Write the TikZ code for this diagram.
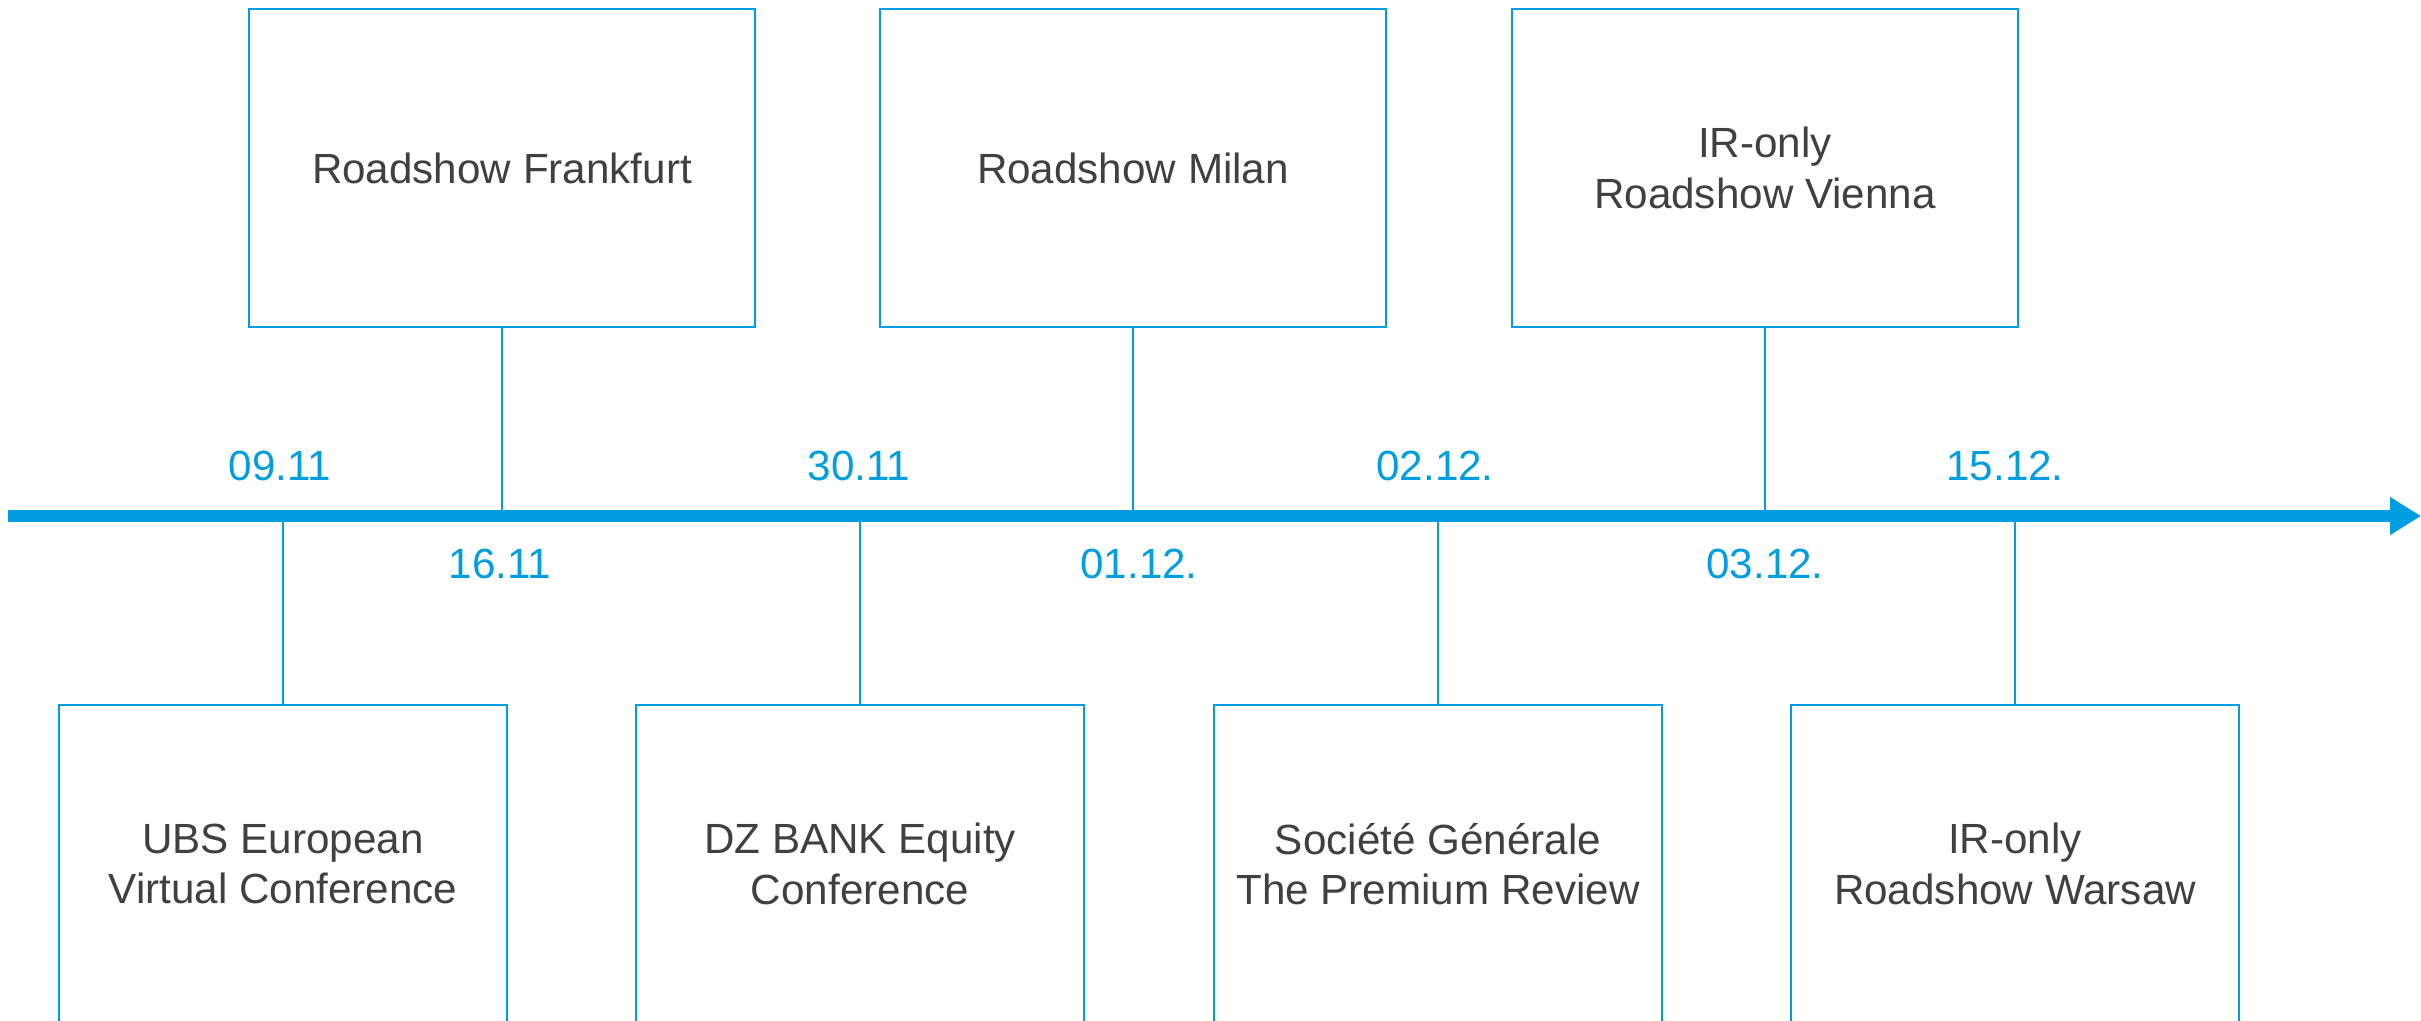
\documentclass[tikz,border=0pt]{standalone}
\usepackage{fontspec}
\setmainfont{Liberation Sans}
\usetikzlibrary{arrows.meta, positioning}
\definecolor{tlblue}{RGB}{0,158,224}
\definecolor{tlgray}{RGB}{64,64,64}
\begin{document}
\begin{tikzpicture}[x=0.01cm, y=-0.01cm,
    event/.style={draw=tlblue, line width=0.6pt, text=tlgray, align=center,
        font=\fontsize{12pt}{14.4pt}\selectfont, inner sep=0pt,
        minimum width=5.06cm, minimum height=3.17cm},
    lowevent/.style={event, minimum width=4.48cm},
    date/.style={text=tlblue, font=\fontsize{12pt}{14.4pt}\selectfont,
        inner sep=0pt, anchor=base},
    stem/.style={draw=tlblue, line width=0.5pt}]
\useasboundingbox (0,0) rectangle (2421,1020);
% Events above the axis
\foreach \x/\name/\txt in {502/frankfurt/{Roadshow Frankfurt},
        1133/milan/{Roadshow Milan},
        1765/vienna/{IR-only\\Roadshow Vienna}} {
    \node[event] (\name) at (\x,168) {\txt};
    \coordinate (\name-t) at (\x,516);
    \draw[stem] (\name.south) -- (\name-t);
}
% Events below the axis
\foreach \x/\name/\txt in {283/ubs/{UBS European\\Virtual Conference},
        860/dzbank/{DZ BANK Equity\\Conference},
        1438/socgen/{Société Générale\\The Premium Review},
        2015/warsaw/{IR-only\\Roadshow Warsaw}} {
    \node[lowevent] (\name) at (\x,864) {\txt};
    \coordinate (\name-t) at (\x,516);
    \draw[stem] (\name.north) -- (\name-t);
}
% Time axis
\coordinate (start) at (8,516);
\coordinate (end) at (2421,516);
\draw[tlblue, line width=0.12cm, -{Triangle[length=0.31cm,width=0.36cm]}] (start) -- (end);
% Dates
\node[date] (d0911) at (280,480) {09.11};
\node[date] (d3011) at (859,480) {30.11};
\node[date] (d0212) at (1435,480) {02.12.};
\node[date] (d1512) at (2005,480) {15.12.};
\node[date] (d1611) at (500,578) {16.11};
\node[date] (d0112) at (1139,578) {01.12.};
\node[date] (d0312) at (1765,578) {03.12.};
\end{tikzpicture}
\end{document}
